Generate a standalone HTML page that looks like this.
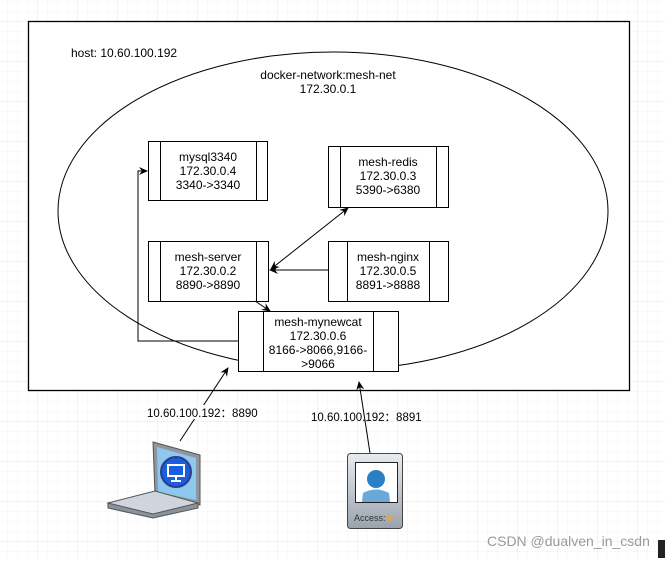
<!DOCTYPE html>
<html><head><meta charset="utf-8"><style>
html,body{margin:0;padding:0;}
body{width:665px;height:558px;overflow:hidden;background:#fff;font-family:"Liberation Sans",sans-serif;}
</style></head><body>
<svg width="665" height="558" xmlns="http://www.w3.org/2000/svg" font-family="Liberation Sans, sans-serif" font-size="12">
<defs>
<pattern id="gm" width="10" height="10" patternUnits="userSpaceOnUse" x="8" y="2"><path d="M10 0V10M0 10H10" stroke="#f3f3f3" stroke-width="1" fill="none"/></pattern>
<pattern id="gM" width="40" height="40" patternUnits="userSpaceOnUse" x="-2" y="-18"><path d="M40 0V40M0 40H40" stroke="#e6e6e6" stroke-width="1" fill="none"/></pattern>
<marker id="a" markerWidth="10" markerHeight="10" refX="8" refY="5" orient="auto" markerUnits="userSpaceOnUse"><path d="M0,1 L9,5 L0,9 L3,5z" fill="#000"/></marker>
<marker id="as" markerWidth="10" markerHeight="10" refX="2" refY="5" orient="auto" markerUnits="userSpaceOnUse"><path d="M10,1 L1,5 L10,9 L7,5z" fill="#000"/></marker>
<linearGradient id="lg" x1="0" y1="0" x2="0" y2="1"><stop offset="0" stop-color="#e8ecf0"/><stop offset="1" stop-color="#9aa3ad"/></linearGradient>
</defs>
<rect width="665" height="558" fill="url(#gm)"/>
<rect width="665" height="558" fill="url(#gM)"/>
<rect x="28.5" y="21.5" width="601" height="369" fill="#fff" stroke="#000" stroke-width="1.3"/>
<text x="71" y="57">host: 10.60.100.192</text>
<ellipse cx="333" cy="211" rx="275" ry="159" fill="none" stroke="#000" stroke-width="1"/>
<text x="328" y="79" text-anchor="middle">docker-network:mesh-net</text>
<text x="328" y="93" text-anchor="middle">172.30.0.1</text>

<g fill="#fff" stroke="#000" stroke-width="1">
<rect x="148.5" y="141.5" width="119" height="59"/><path d="M160.5 141.5V200.5M256.5 141.5V200.5"/>
<rect x="328.5" y="146.5" width="120" height="61"/><path d="M340.5 146.5V207.5M436.5 146.5V207.5"/>
<rect x="148.5" y="241.5" width="120" height="60"/><path d="M160.5 241.5V301.5M256.5 241.5V301.5"/>
<rect x="328.5" y="241.5" width="120" height="60"/><path d="M347.5 241.5V301.5M429.5 241.5V301.5"/>
<rect x="238.5" y="311.5" width="160" height="60"/><path d="M263.5 311.5V371.5M373.5 311.5V371.5"/>
</g>
<g text-anchor="middle">
<text x="208" y="161">mysql3340</text><text x="208" y="175">172.30.0.4</text><text x="208" y="189">3340-&gt;3340</text>
<text x="388" y="166">mesh-redis</text><text x="388" y="180">172.30.0.3</text><text x="388" y="194">5390-&gt;6380</text>
<text x="208" y="261">mesh-server</text><text x="208" y="275">172.30.0.2</text><text x="208" y="289">8890-&gt;8890</text>
<text x="388" y="261">mesh-nginx</text><text x="388" y="275">172.30.0.5</text><text x="388" y="289">8891-&gt;8888</text>
<text x="318" y="326">mesh-mynewcat</text><text x="318" y="340">172.30.0.6</text><text x="318" y="354">8166-&gt;8066,9166-</text><text x="318" y="368">&gt;9066</text>
</g>
<g stroke="#000" stroke-width="1" fill="none">
<path d="M271 269 L348 208" marker-start="url(#as)" marker-end="url(#a)"/>
<path d="M328 270 H270" marker-end="url(#a)"/>
<path d="M255 301 L270 311" marker-end="url(#a)"/>
<path d="M238 341 H138 V171 H147" marker-end="url(#a)"/>
<path d="M180 441 L228 368" marker-end="url(#a)"/>
<path d="M370 453 L359 382" marker-end="url(#a)"/>
</g>
<rect x="146" y="405" width="118" height="14" fill="#fff"/>
<text x="147" y="417" font-size="11.5">10.60.100.192：8890</text>
<text x="311" y="421" font-size="11.5">10.60.100.192：8891</text>

<!-- laptop -->
<path d="M153 442 L200 455 L200 505 L155 495z" fill="#8f969e" stroke="#555"/>
<path d="M157 447 L196 458 L196 500 L158 492z" fill="#8fc8ee"/>
<circle cx="176" cy="472" r="15" fill="#1a5ee0" stroke="#2a3e8a" stroke-width="2"/>
<rect x="168" y="465" width="16" height="11" fill="none" stroke="#fff" stroke-width="2"/>
<path d="M176 476V481M171 481H181" stroke="#fff" stroke-width="2"/>
<path d="M108 503 L155 491 L198 503 L153 516z" fill="#cfd5dc" stroke="#555"/>
<path d="M108 503 L108 508 L153 518 L198 508 L198 503 L153 514z" fill="#8a929b" stroke="#555"/>
<!-- badge -->
<rect x="347.5" y="453.5" width="55" height="75" rx="3" fill="url(#lg)" stroke="#444"/>
<rect x="355.5" y="462.5" width="42" height="40" fill="#fff" stroke="#222"/>
<circle cx="376" cy="479" r="9" fill="#2a7fc5"/>
<path d="M362 502 L363 493 Q376 486 389 493 L390 502z" fill="#6aa8d8"/>
<text x="354" y="521" font-size="9" fill="#333">Access:</text>
<text x="384" y="522" font-size="12" fill="#e8a43c">★</text>

<text x="487" y="546" font-size="14" fill="#9a9a9a">CSDN @dualven_in_csdn</text>
<rect x="658" y="540" width="7" height="18" fill="#222"/>
</svg>
</body></html>
